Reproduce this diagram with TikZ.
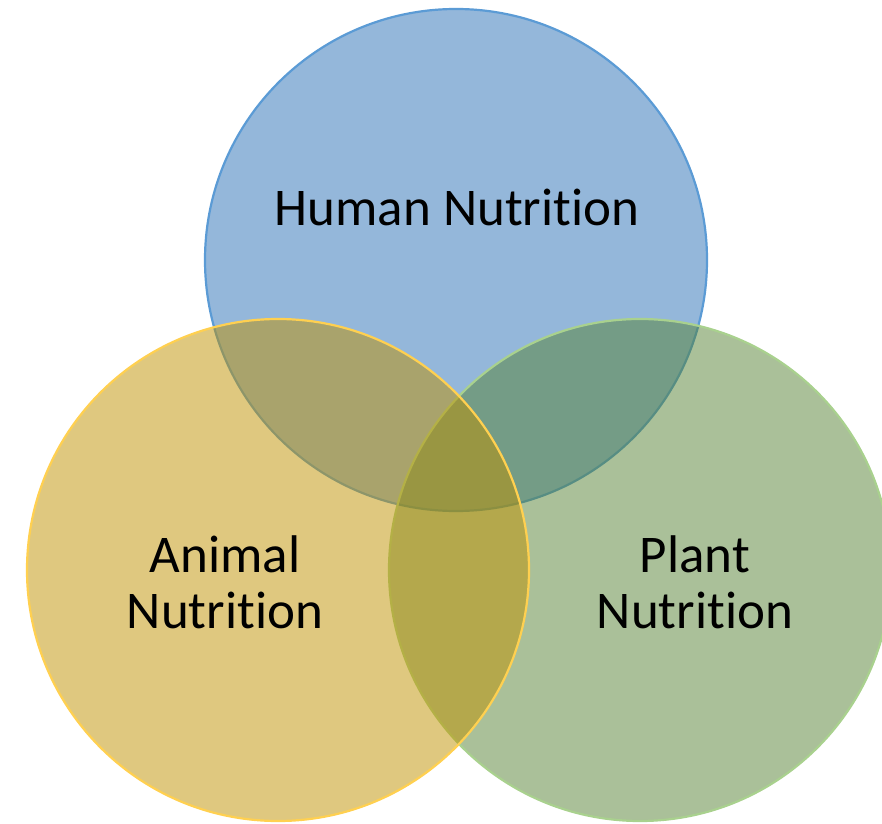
\documentclass[tikz,border=0pt]{standalone}
\usepackage{fontspec}
\setmainfont{Carlito}[Ligatures={NoCommon}]
\definecolor{bluefill}{RGB}{41,111,181}
\definecolor{yellowfill}{RGB}{191,145,0}
\definecolor{greenfill}{RGB}{85,129,51}
\definecolor{blueline}{RGB}{91,155,213}
\definecolor{yellowline}{RGB}{255,208,80}
\definecolor{greenline}{RGB}{169,209,142}
\tikzset{
  venn/.style={circle, minimum size=502pt, inner sep=0pt, line width=2.2pt, fill opacity=0.5, draw opacity=1},
  lbl/.style={font=\fontsize{53}{56}\selectfont, align=center, text=black, inner sep=0pt}
}
\begin{document}
\begin{tikzpicture}[x=1pt,y=1pt]
\useasboundingbox (0,0) rectangle (882,823);
\node[venn, fill=bluefill, draw=blueline] (human) at (456,563) {};
\node[venn, fill=greenfill, draw=greenline] (plant) at (640,253) {};
\node[venn, fill=yellowfill, draw=yellowline] (animal) at (278,253) {};
\node[lbl, anchor=base] (humant) at (457,597) {Human Nutrition};
\node[lbl, anchor=base] (animalt) at (225,195) {Animal\\Nutrition};
\node[lbl, anchor=base] (plantt) at (695,195) {Plant\\Nutrition};
\end{tikzpicture}
\end{document}
